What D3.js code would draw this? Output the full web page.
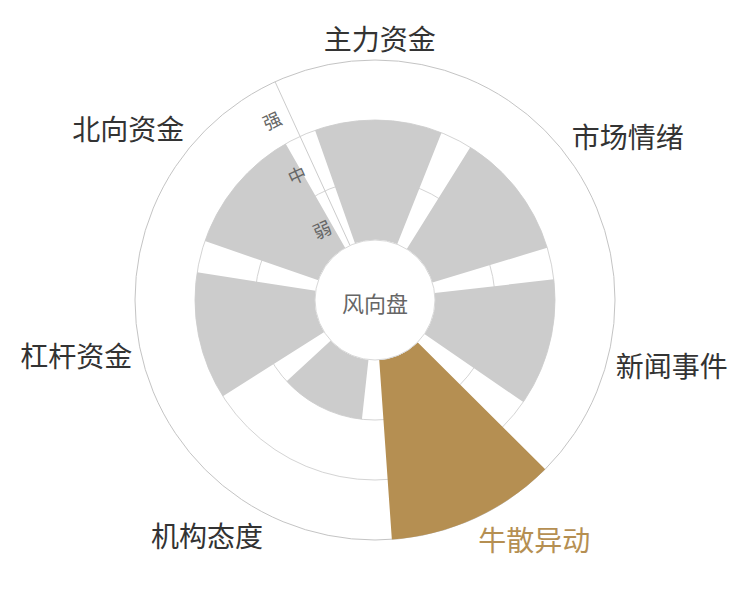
<!DOCTYPE html>
<html><head><meta charset="utf-8">
<script src="https://cdn.jsdelivr.net/npm/d3@7"></script>
<style>body{margin:0;background:#fff}svg{display:block}</style>
</head><body>
<svg id="c" width="750" height="600"></svg>
<script>
const categories = ['主力资金','市场情绪','新闻事件','牛散异动','机构态度','杠杆资金','北向资金'];
const levels = ['弱','中','强'];
const values = ['中','中','中','强','弱','中','中'];
const highlight = '牛散异动';
const centerLabel = '风向盘';

const cx = 375, cy = 300, r0 = 60, r1 = 240;
const startDeg = -24.6;
const rad = Math.PI / 180;
const FONT = '"Noto Sans CJK SC","Noto Sans",sans-serif';
const GOLD = '#b58f52', GRAY = '#cccccc';

const svg = d3.select('#c');
const g = svg.append('g').attr('transform', `translate(${cx},${cy})`);

const angle = d3.scaleBand().domain(categories)
  .range([startDeg * rad, (startDeg + 360) * rad])
  .paddingInner(0.2).paddingOuter(0.1);
const radius = d3.scaleBand().domain(levels).range([r0, r1]);
const rb = radius.bandwidth();
const pt = (a, r) => [r * Math.sin(a), -r * Math.cos(a)];

// grid circles
g.selectAll('circle.grid').data(levels).join('circle')
  .attr('class', 'grid').attr('r', d => radius(d) + rb)
  .attr('fill', 'none')
  .attr('stroke', (d, i) => i === levels.length - 1 ? '#c4c4c4' : '#d4d4d4')
  .attr('stroke-width', 1);

// radius axis line
const a0 = startDeg * rad;
const p1 = pt(a0, r0), p2 = pt(a0, r1);
g.append('line').attr('x1', p1[0]).attr('y1', p1[1]).attr('x2', p2[0]).attr('y2', p2[1])
  .attr('stroke', '#cccccc').attr('stroke-width', 1);

// bars
const arc = d3.arc();
g.selectAll('path.bar').data(categories).join('path')
  .attr('class', 'bar')
  .attr('d', (c, i) => arc({
    innerRadius: r0,
    outerRadius: radius(values[i]) + rb,
    startAngle: angle(c),
    endAngle: angle(c) + angle.bandwidth()
  }))
  .attr('fill', c => c === highlight ? GOLD : GRAY);

// inner circle
g.append('circle').attr('r', r0).attr('fill', '#fff').attr('stroke', '#d8d8d8').attr('stroke-width', 1);
g.append('text').text(centerLabel)
  .attr('x', 0).attr('y', 2)
  .attr('text-anchor', 'middle').attr('dominant-baseline', 'central')
  .attr('font-family', FONT).attr('font-size', 22).attr('fill', '#666');

// radius axis labels
const u = [Math.sin(a0), -Math.cos(a0)];
const perp = [-Math.cos(a0), -Math.sin(a0)];
g.selectAll('text.lvl').data(levels).join('text')
  .attr('class', 'lvl')
  .text(d => d)
  .attr('transform', d => {
    const r = radius(d) + rb / 2 - 3;
    const x = u[0] * r + perp[0] * 19;
    const y = u[1] * r + perp[1] * 19;
    return `translate(${x},${y}) rotate(${startDeg})`;
  })
  .attr('text-anchor', 'middle').attr('dominant-baseline', 'central')
  .attr('font-family', FONT).attr('font-size', 18).attr('fill', '#666');

// category labels
g.selectAll('text.cat').data(categories).join('text')
  .attr('class', 'cat')
  .text(d => d)
  .each(function (d) {
    const a = angle(d) + angle.bandwidth() / 2;
    const s = Math.sin(a), c = Math.cos(a);
    const p = pt(a, r1 + 8);
    const dy = -14 * Math.max(-1, Math.min(1, c * 1.5));
    d3.select(this)
      .attr('x', p[0]).attr('y', p[1] + dy)
      .attr('text-anchor', Math.abs(s) < 0.05 ? 'middle' : (s > 0 ? 'start' : 'end'));
  })
  .attr('dominant-baseline', 'central')
  .attr('font-family', FONT).attr('font-size', 28)
  .attr('fill', d => d === highlight ? GOLD : '#333');
</script>
</body></html>
